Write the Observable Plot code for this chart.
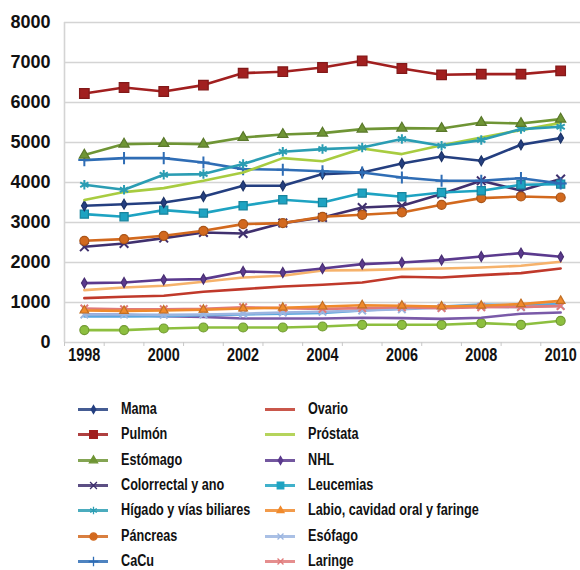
<!DOCTYPE html>
<html><head><meta charset="utf-8">
<script src="https://cdn.jsdelivr.net/npm/d3@7"></script>
<script src="https://cdn.jsdelivr.net/npm/@observablehq/plot@0.6"></script>
<style>
body{margin:0;background:#fff;}
#wrap{position:relative;width:580px;height:570px;overflow:hidden;font-family:"Liberation Sans",Arial,sans-serif;}
#chart svg{display:block;}
#chart g[aria-label="y-axis tick label"] text{font-size:18px;font-weight:bold;font-family:"Liberation Sans",Arial,sans-serif;fill:#111;}
#chart g[aria-label="x-axis tick label"] text{font-size:18px;font-weight:bold;font-family:"Liberation Sans",Arial,sans-serif;fill:#111;}
#legend{position:absolute;left:0;top:398px;width:580px;}
.item{position:absolute;display:flex;align-items:center;height:22px;color:#111;}
.item svg{margin-right:13px;flex:none;}
.item span{display:inline-block;font-size:16px;font-weight:bold;transform:scaleX(0.79);transform-origin:0 50%;white-space:nowrap;}
</style></head>
<body><div id="wrap"><div id="chart"></div><div id="legend"></div></div>
<script>
const years = [1998,1999,2000,2001,2002,2003,2004,2005,2006,2007,2008,2009,2010];
const yTicks = [0,1000,2000,3000,4000,5000,6000,7000,8000];
const xLabels = [1998,2000,2002,2004,2006,2008,2010];

const mama        = [3418,3458,3500,3650,3918,3918,4210,4250,4475,4650,4543,4943,5110];
const pulmon      = [6225,6375,6275,6435,6735,6770,6875,7043,6850,6693,6710,6710,6793];
const estomago    = [4685,4960,4975,4960,5125,5200,5235,5335,5360,5350,5500,5475,5585];
const colorrectal = [2393,2475,2610,2750,2725,2985,3125,3375,3418,3710,4043,3800,4085];
const higado      = [3943,3818,4193,4210,4460,4768,4835,4875,5085,4918,5060,5335,5393];
const pancreas    = [2543,2585,2668,2793,2960,2985,3143,3193,3250,3443,3610,3650,3625];
const cacu        = [4560,4610,4610,4500,4335,4318,4280,4250,4125,4043,4043,4108,3975];
const ovario      = [1110,1143,1168,1268,1335,1400,1443,1500,1643,1625,1685,1735,1850];
const prostata    = [3560,3760,3860,4043,4250,4610,4530,4850,4710,4930,5125,5310,5490];
const nhl         = [1485,1500,1568,1585,1775,1750,1850,1960,2000,2060,2150,2235,2143];
const leucemias   = [3210,3143,3310,3235,3418,3568,3500,3735,3643,3750,3793,3943,3960];
const labio       = [800,790,800,820,850,870,900,930,920,900,920,960,1040];
const esofago     = [700,700,690,700,720,750,770,800,830,870,900,880,920];
const laringe     = [850,830,830,840,880,860,840,860,880,860,880,890,910];
// series whose legend entries fall below the visible area
const serie15     = [1310,1375,1418,1518,1625,1668,1800,1810,1835,1850,1875,1918,2018];
const serie16     = [650,650,660,680,700,720,740,800,850,900,950,930,960];
const serie17     = [700,690,660,640,600,600,600,620,610,590,620,720,750];
const serie18     = [310,310,350,375,375,375,400,443,443,443,485,443,543];

const series = [
  {name:"Serie 18", values:serie18, color:"#8dbf3f", symbol:"circle", r:4.5, legend:false},
  {name:"Serie 17", values:serie17, color:"#7a5aa8", symbol:null, legend:false},
  {name:"Serie 16", values:serie16, color:"#5aa7de", symbol:null, legend:false},
  {name:"Esófago", values:esofago, color:"#9bb5e0", symbol:"times", r:3.5},
  {name:"Laringe", values:laringe, color:"#e07a7a", symbol:"times", r:3.5},
  {name:"Labio, cavidad oral y faringe", values:labio, color:"#f08a2c", symbol:"triangle", r:3.2},
  {name:"Serie 15", values:serie15, color:"#f6b26b", symbol:null, legend:false},
  {name:"Ovario", values:ovario, color:"#c0392b", symbol:null},
  {name:"NHL", values:nhl, color:"#5b3a8e", symbol:"diamond", r:3},
  {name:"Colorrectal y ano", values:colorrectal, color:"#40306e", symbol:"times", r:4},
  {name:"Páncreas", values:pancreas, color:"#d2691e", symbol:"circle", r:4.5},
  {name:"Leucemias", values:leucemias, color:"#1ea3c2", symbol:"square", r:4.6},
  {name:"Mama", values:mama, color:"#243f80", symbol:"diamond", r:3},
  {name:"CaCu", values:cacu, color:"#2f6db5", symbol:"plus", r:4},
  {name:"Próstata", values:prostata, color:"#a8cc40", symbol:null},
  {name:"Hígado y vías biliares", values:higado, color:"#2b9db3", symbol:"asterisk", r:4.5},
  {name:"Estómago", values:estomago, color:"#6f9535", symbol:"triangle", r:3.8},
  {name:"Pulmón", values:pulmon, color:"#a11f1f", symbol:"square", r:5.4}
];
const outline = s => (s.symbol==="times"||s.symbol==="plus"||s.symbol==="asterisk");

const halfYears = d3.range(years[0]-0.5, years[years.length-1]+1, 1);

const marks = [
  Plot.ruleY(yTicks, {stroke:"#d4d4d4", strokeWidth:1.6}),
  Plot.ruleX([halfYears[0]], {y1:yTicks[0], y2:yTicks[yTicks.length-1], stroke:"#d4d4d4", strokeWidth:1.6}),
  Plot.axisX({ticks:halfYears, tickSize:4, tickFormat:()=>"", stroke:"#c8c8c8", label:null}),
  Plot.axisX({ticks:xLabels, tickSize:0, tickPadding:6, tickFormat:d=>String(d), label:null}),
  Plot.axisY({ticks:yTicks, tickSize:0, tickPadding:14, tickFormat:d=>String(d), label:null})
];
for (const s of series) {
  const data = years.map((y,i)=>({year:y, value:s.values[i]}));
  marks.push(Plot.line(data, {x:"year", y:"value", stroke:s.color, strokeWidth:2.6}));
  if (s.symbol) {
    const o = outline(s);
    marks.push(Plot.dot(data, {x:"year", y:"value", symbol:s.symbol, r:s.r,
      fill: o ? "none" : s.color, stroke: o ? s.color : d3.color(s.color).darker(0.6).formatHex(),
      strokeWidth: o ? 2 : 1.2}));
  }
}

const chart = Plot.plot({
  width:580, height:374,
  marginLeft:64, marginRight:0, marginTop:22, marginBottom:32,
  x:{domain:[halfYears[0], halfYears[halfYears.length-1]], label:null},
  y:{domain:[yTicks[0], yTicks[yTicks.length-1]], label:null},
  style:{fontFamily:"Liberation Sans, sans-serif", background:"#fff"},
  marks
});
document.getElementById("chart").appendChild(chart);
d3.select(chart).selectAll('g[aria-label="x-axis tick label"] text')
  .attr("transform", function(){ return (this.getAttribute("transform")||"") + " scale(0.8,1)"; });

// legend
const col1 = ["Mama","Pulmón","Estómago","Colorrectal y ano","Hígado y vías biliares","Páncreas","CaCu"];
const col2 = ["Ovario","Próstata","NHL","Leucemias","Labio, cavidad oral y faringe","Esófago","Laringe"];
const legend = document.getElementById("legend");
const byName = Object.fromEntries(series.map(s=>[s.name,s]));
function addItem(name, left, top){
  const s = byName[name];
  const div = document.createElement("div");
  div.className="item"; div.style.left=left+"px"; div.style.top=top+"px";
  const sw = Plot.plot({width:30, height:22, margin:0, axis:null,
    x:{domain:[0,1]}, y:{domain:[0,1]},
    marks:[
      Plot.ruleY([0.5], {stroke:s.color, strokeWidth:3, strokeOpacity:0.85}),
      s.symbol ? Plot.dot([{x:0.5,y:0.5}], {x:"x", y:"y", symbol:s.symbol, r:s.r*0.8,
        fill: outline(s) ? "none" : s.color, stroke:s.color, strokeWidth:1.3}) : null
    ].filter(Boolean)});
  div.appendChild(sw);
  const t = document.createElement("span"); t.textContent=name; div.appendChild(t);
  legend.appendChild(div);
}
col1.forEach((n,i)=>addItem(n, 78, i*25.3));
col2.forEach((n,i)=>addItem(n, 265, i*25.3));
</script></body></html>
